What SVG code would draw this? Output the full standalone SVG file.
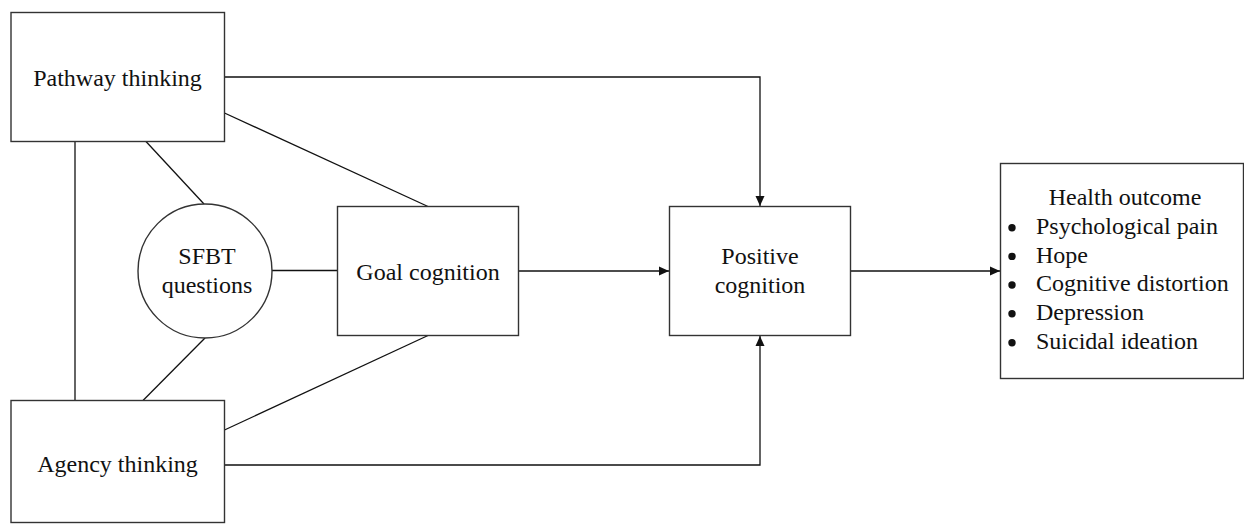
<svg xmlns="http://www.w3.org/2000/svg" width="1244" height="525" viewBox="0 0 1244 525">
<style>
.box{fill:#fff;stroke:#333;stroke-width:1.4}
.ln{fill:none;stroke:#111;stroke-width:1.3}
.t{font-family:"Liberation Serif","Times New Roman",serif;font-size:24px;fill:#111}
.m{text-anchor:middle}
.dot{fill:#111}
</style>
<defs>
<marker id="ah" markerUnits="userSpaceOnUse" markerWidth="11" markerHeight="10" refX="10" refY="5" orient="auto">
<path d="M0,0.5 L10,5 L0,9.5 Z" fill="#111"/>
</marker>
</defs>
<rect width="1244" height="525" fill="#fff"/>
<g id="connectors">
<polyline class="ln" points="224.5,77 760,77 760,206" marker-end="url(#ah)"/>
<polyline class="ln" points="224.5,465 760,465 760,336" marker-end="url(#ah)"/>
<line class="ln" x1="518.5" y1="271" x2="669" y2="271" marker-end="url(#ah)"/>
<line class="ln" x1="850.5" y1="271" x2="1000" y2="271" marker-end="url(#ah)"/>
<line class="ln" x1="272" y1="270.5" x2="337.5" y2="270.5"/>
<line class="ln" x1="146" y1="141.5" x2="204" y2="204"/>
<line class="ln" x1="205" y1="338" x2="143" y2="400.5"/>
<line class="ln" x1="224.5" y1="113" x2="428" y2="206.5"/>
<line class="ln" x1="224.5" y1="430" x2="428" y2="335.5"/>
<line class="ln" x1="75" y1="141.5" x2="75" y2="400.5"/>
</g>
<g id="pathway">
<rect class="box" x="11" y="12.5" width="213.5" height="129"/>
<text class="t m" x="117.5" y="85.5">Pathway thinking</text>
</g>
<g id="agency">
<rect class="box" x="11" y="400.5" width="213.5" height="122"/>
<text class="t m" x="117.5" y="472">Agency thinking</text>
</g>
<g id="sfbt">
<circle class="box" cx="205" cy="271" r="67"/>
<text class="t m" x="207" y="264">SFBT</text>
<text class="t m" x="207" y="293">questions</text>
</g>
<g id="goal">
<rect class="box" x="337.5" y="206.5" width="181" height="129"/>
<text class="t m" x="428" y="279.5">Goal cognition</text>
</g>
<g id="positive">
<rect class="box" x="669.5" y="206.5" width="181" height="129"/>
<text class="t m" x="760" y="264">Positive</text>
<text class="t m" x="760" y="293">cognition</text>
</g>
<g id="health">
<rect class="box" x="1000.5" y="163.5" width="243" height="215"/>
<text class="t m" x="1125" y="205">Health outcome</text>
<circle class="dot" cx="1012" cy="227.7" r="3.7"/>
<circle class="dot" cx="1012" cy="256.4" r="3.7"/>
<circle class="dot" cx="1012" cy="285" r="3.7"/>
<circle class="dot" cx="1012" cy="313.7" r="3.7"/>
<circle class="dot" cx="1012" cy="342.7" r="3.7"/>
<text class="t" x="1036" y="234">Psychological pain</text>
<text class="t" x="1036" y="262.7">Hope</text>
<text class="t" x="1036" y="291.3">Cognitive distortion</text>
<text class="t" x="1036" y="320">Depression</text>
<text class="t" x="1036" y="349">Suicidal ideation</text>
</g>
</svg>
